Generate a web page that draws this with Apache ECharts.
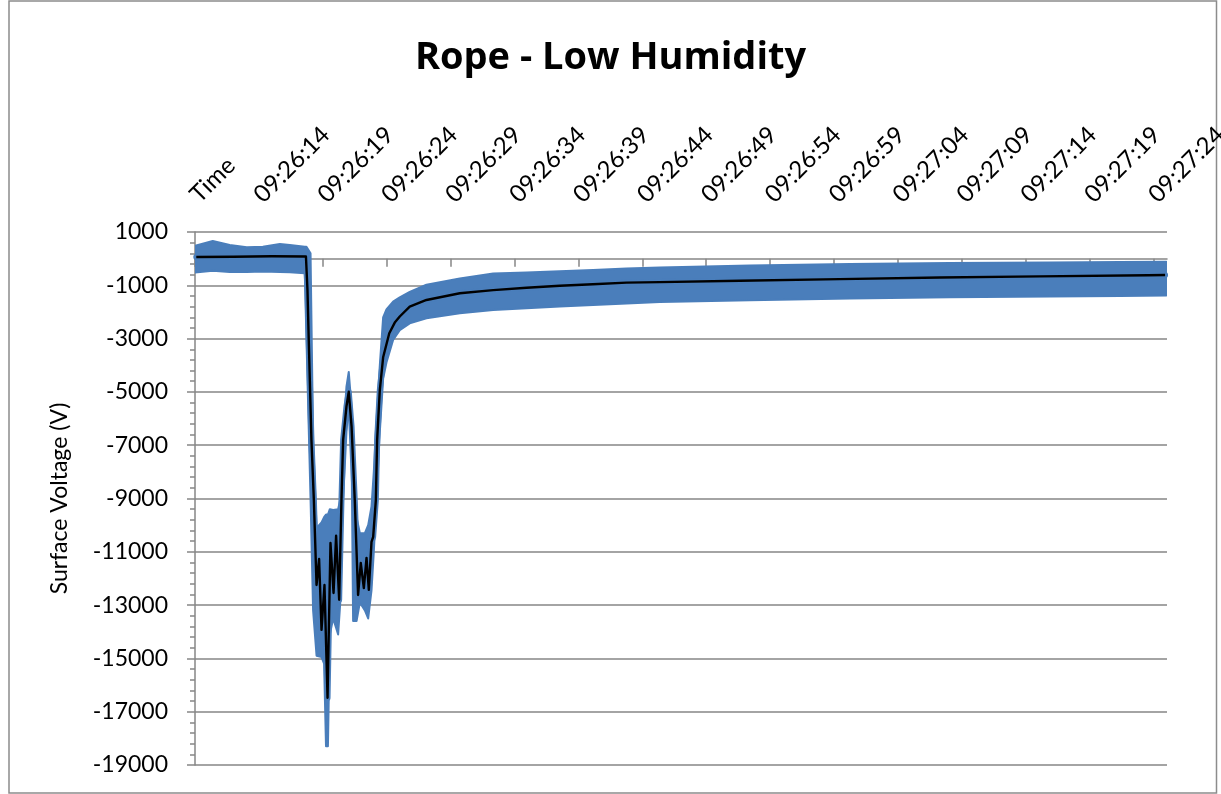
<!DOCTYPE html>
<html><head><meta charset="utf-8">
<script src="https://cdn.jsdelivr.net/npm/echarts@6/dist/echarts.min.js"></script>
<style>html,body{margin:0;padding:0;background:#fff}#c{width:1221px;height:794px}</style>
</head><body><div id="c"></div>
<script>
// ---- data ----
const tickLabels = ['Time','09:26:14','09:26:19','09:26:24','09:26:29','09:26:34','09:26:39','09:26:44',
  '09:26:49','09:26:54','09:26:59','09:27:04','09:27:09','09:27:14','09:27:19','09:27:24'];
const tickSeconds = [0,5,10,15,20,25,30,35,40,45,50,55,60,65,70,75];

// smoothed (black) trace: seconds from the "Time" tick, surface voltage (V)
const meanT = [0.1,3,6,8.68,8.80,8.90,9.11,9.30,9.51,9.71,9.90,10.13,10.37,10.60,10.84,11.04,11.28,11.46,
  11.59,11.85,12.03,12.25,12.50,12.76,12.97,13.21,13.42,13.60,13.81,13.94,14.15,14.25,14.46,14.72,15.2,
  15.63,16.02,16.80,18.11,20.72,23.33,25.94,28.54,31.13,33.76,36.37,42.63,50.45,58.28,66.10,74.55,75.9];
const meanV = [60,70,90,80,-1180,-3050,-6800,-9060,-12245,-11270,-13930,-12245,-16480,-10670,-12545,-10400,
  -12800,-9050,-6800,-5550,-4990,-6300,-9060,-12620,-11420,-12360,-11230,-12430,-10630,-10440,-9060,-6800,
  -4930,-3700,-2800,-2400,-2170,-1800,-1550,-1300,-1180,-1090,-1015,-960,-900,-880,-830,-770,-710,-665,-625,-615];

// raw (blue) signal envelope: upper and lower edge of the noisy band
const envT = [0.0,1.39,2.72,4.05,5.31,6.64,7.42,8.59,8.72,9.04,9.24,9.51,9.90,10.10,10.25,10.40,10.55,10.81,
  11.20,11.38,11.54,11.85,12.03,12.25,12.37,12.64,12.90,13.29,13.55,13.81,13.99,14.15,14.46,14.72,14.98,
  15.50,16.02,16.80,18.11,20.72,23.33,25.94,28.54,31.15,33.76,36.37,43.41,51.24,59.06,66.89,72.37,76.0];
const envHi = [480,660,510,425,450,550,510,450,450,200,-6800,-10100,-9900,-9700,-9600,-9600,-9400,-9430,
  -9400,-9000,-7000,-4800,-4250,-5600,-7500,-9700,-10300,-10300,-10000,-9300,-8000,-6500,-4000,-2200,-1900,
  -1615,-1450,-1250,-980,-740,-560,-520,-470,-430,-370,-330,-260,-200,-160,-140,-125,-120];
const envLo = [-520,-450,-500,-500,-480,-500,-510,-550,-3000,-9000,-13200,-14900,-14950,-15200,-18300,-18300,
  -14100,-13500,-14100,-12800,-9500,-6500,-5400,-7200,-13600,-13600,-12900,-13200,-13500,-12450,-11000,-9500,
  -6500,-4500,-3900,-3050,-2680,-2430,-2240,-2050,-1930,-1860,-1800,-1740,-1680,-1630,-1560,-1500,-1450,
  -1420,-1400,-1380];

// ---- chart ----
const xMax = 76.05;
const labelShift = 0.6;   // label anchor nudge (seconds) so rotated text starts at its tick
const FONT = 'Lato';
const AX = '#868686';
const BLUE = '#4a7ebb';
const chart = echarts.init(document.getElementById('c'), null, {renderer: 'canvas'});
const option = {
  animation: false,
  backgroundColor: '#fff',
  title: {
    text: 'Rope - Low Humidity', left: 'center', top: 34,
    textStyle: {fontFamily: 'Open Sans', fontSize: 38, fontWeight: 'bold', color: '#000'}
  },
  grid: {left: 195, right: 54, top: 232, bottom: 29, containLabel: false, outerBoundsMode: 'none'},
  graphic: [{
    type: 'rect', silent: true, z: -1,
    shape: {x: 9, y: 1, width: 1207.5, height: 792},
    style: {fill: null, stroke: '#8c8c8c', lineWidth: 1.5}
  }],
  xAxis: [
    {
      type: 'value', min: 0, max: xMax, position: 'top',
      axisLine: {show: false, onZero: false}, axisTick: {show: false}, splitLine: {show: false},
      axisLabel: {
        customValues: tickSeconds.map(t => t + labelShift),
        formatter: v => tickLabels[Math.round((v - labelShift) / 5)],
        rotate: -45, align: 'left', verticalAlign: 'bottom', margin: 25,
        fontFamily: FONT, fontSize: 24, color: '#000'
      }
    },
    {
      type: 'value', min: 0, max: xMax, position: 'bottom',
      axisLine: {show: true, onZero: true, lineStyle: {color: AX, width: 1.5}},
      axisTick: {show: true, customValues: tickSeconds, length: 8, lineStyle: {color: AX, width: 1.5}},
      axisLabel: {show: false}, splitLine: {show: false}
    }
  ],
  yAxis: {
    type: 'value', min: -19000, max: 1000, interval: 2000,
    name: 'Surface Voltage (V)', nameLocation: 'middle', nameGap: 124, nameRotate: 90,
    nameTextStyle: {fontFamily: FONT, fontSize: 23, color: '#000'},
    axisLine: {show: true, lineStyle: {color: AX, width: 1.5}},
    axisTick: {show: true, length: 8, lineStyle: {color: AX, width: 1.5}},
    minorTick: {show: true, splitNumber: 5, length: 5, lineStyle: {color: AX, width: 1.5}},
    axisLabel: {margin: 27, fontFamily: FONT, fontSize: 23, color: '#000', formatter: v => String(v)},
    splitLine: {show: true, lineStyle: {color: AX, width: 1.5}}
  },
  series: [
    {
      type: 'custom', xAxisIndex: 1, clip: true, z: 1,
      data: [[envT[0], envHi[0]]],
      encode: {x: 0, y: 1},
      renderItem: function (params, api) {
        const up = envT.map((t, i) => api.coord([t, envHi[i]]));
        const dn = envT.map((t, i) => api.coord([t, envLo[i]])).reverse();
        return {
          type: 'polygon',
          shape: {points: up.concat(dn)},
          style: {fill: BLUE, stroke: BLUE, lineWidth: 2, lineJoin: 'round'}
        };
      }
    },
    {
      type: 'line', xAxisIndex: 1, z: 2, symbol: 'none', silent: true,
      data: meanT.map((t, i) => [t, meanV[i]]),
      lineStyle: {color: BLUE, width: 6, cap: 'round', join: 'round'}
    },
    {
      type: 'line', xAxisIndex: 1, z: 3, symbol: 'none', silent: true,
      data: meanT.map((t, i) => [t, meanV[i]]),
      lineStyle: {color: '#000', width: 2.4, join: 'round'}
    }
  ]
};
chart.setOption(option);
</script>
</body></html>
